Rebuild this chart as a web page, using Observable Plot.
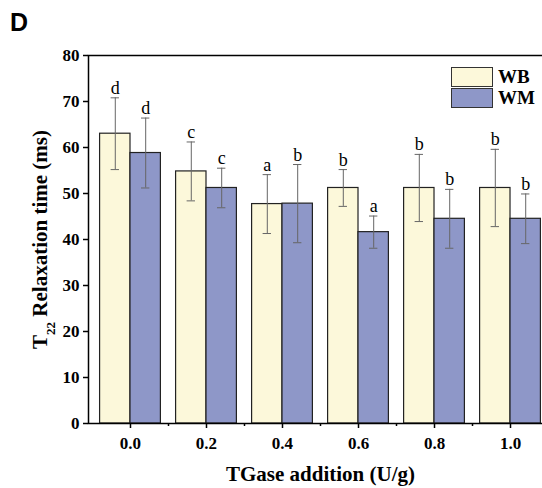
<!DOCTYPE html>
<html>
<head>
<meta charset="utf-8">
<script src="https://cdn.jsdelivr.net/npm/d3@7"></script>
<script src="https://cdn.jsdelivr.net/npm/@observablehq/plot@0.6"></script>
<style>
  html, body { margin: 0; padding: 0; background: #fff; overflow: hidden; width: 542px; height: 488px; }
  #wrap { position: relative; width: 542px; height: 488px; overflow: hidden; }
  #panel { position: absolute; left: 10px; top: 8px; font: bold 25px "Liberation Sans", Arial, sans-serif; color: #000; }
  #chart { position: absolute; left: 0; top: 0; width: 560px; }
  #chart svg { max-width: none !important; }
  #legend { position: absolute; left: 451px; top: 66px; font: bold 19px "Liberation Serif", "Times New Roman", serif; }
  #legend .row { display: flex; align-items: center; height: 21px; }
  #legend .sw { width: 42px; height: 20px; border: 1px solid #333; box-sizing: border-box; margin-right: 5px; }
</style>
</head>
<body>
<div id="wrap">
  <div id="panel">D</div>
  <div id="chart"></div>
  <div id="legend"></div>
</div>
<script>
// Data
const additions = [0.0, 0.2, 0.4, 0.6, 0.8, 1.0];
const tickLabels = ["0.0", "0.2", "0.4", "0.6", "0.8", "1.0"];
const minorTicks = [0.1, 0.3, 0.5, 0.7, 0.9];
const series = ["WB", "WM"];
const wbMean = [63.0, 54.8, 47.7, 51.2, 51.2, 51.2];
const wbSd   = [7.8, 6.4, 6.4, 4.0, 7.3, 8.4];
const wmMean = [58.8, 51.2, 47.8, 41.6, 44.5, 44.5];
const wmSd   = [7.6, 4.3, 8.5, 3.5, 6.4, 5.4];
const wbLetters = ["d", "c", "a", "b", "b", "b"];
const wmLetters = ["d", "c", "b", "a", "b", "b"];
const colors = {WB: "#fcf8da", WM: "#8e97c8"};

const barW = 0.08;
const rows = [];
additions.forEach((a, i) => {
  rows.push({series: "WB", a, x1: a - barW, x2: a, cx: a - barW / 2, mean: wbMean[i], sd: wbSd[i], letter: wbLetters[i]});
  rows.push({series: "WM", a, x1: a, x2: a + barW, cx: a + barW / 2, mean: wmMean[i], sd: wmSd[i], letter: wmLetters[i]});
});
const capHalf = 0.011;

const plot = Plot.plot({
  width: 560,
  height: 488,
  marginLeft: 88,
  marginRight: 8,
  marginTop: 55,
  marginBottom: 65,
  style: {fontFamily: "'Liberation Serif', 'Times New Roman', serif", fontWeight: "bold", fontSize: "17px", color: "#000", background: "transparent", maxWidth: "none"},
  x: {type: "linear", domain: [-0.1105, 1.1105]},
  y: {type: "linear", domain: [0, 80]},
  color: {domain: series, range: series.map(s => colors[s])},
  marks: [
    Plot.rectY(rows, {x1: "x1", x2: "x2", y: "mean", fill: "series", stroke: "#222", strokeWidth: 1.2}),
    Plot.ruleX(rows, {x: "cx", y1: d => d.mean - d.sd, y2: d => d.mean + d.sd, stroke: "#666", strokeWidth: 1}),
    Plot.ruleY(rows, {y: d => d.mean + d.sd, x1: d => d.cx - capHalf, x2: d => d.cx + capHalf, stroke: "#666", strokeWidth: 1}),
    Plot.ruleY(rows, {y: d => d.mean - d.sd, x1: d => d.cx - capHalf, x2: d => d.cx + capHalf, stroke: "#666", strokeWidth: 1}),
    Plot.text(rows, {x: "cx", y: d => d.mean + d.sd, text: "letter", lineAnchor: "bottom", dy: -4, fontSize: 18, fontWeight: "normal", fill: "#000"}),
    Plot.axisX({ticks: additions, tickFormat: d => tickLabels[additions.indexOf(d)] ?? "", tickSize: 5, tickPadding: 8, strokeWidth: 1.5, fontSize: 17, label: "TGase addition (U/g)", labelAnchor: "center", labelArrow: "none", labelOffset: 57}),
    Plot.axisX({ticks: minorTicks, tickSize: 3, tickFormat: () => "", strokeWidth: 1.5, label: null}),
    Plot.axisY({ticks: d3.range(0, 81, 10), tickSize: 5, tickPadding: 4, strokeWidth: 1.5, fontSize: 17, label: "T22 Relaxation time (ms)", labelAnchor: "center", labelArrow: "none", labelOffset: 56}),
    Plot.frame({stroke: "#000", strokeWidth: 1.5})
  ]
});
document.getElementById("chart").appendChild(plot);

// axis label font sizes and subscript
const svg = d3.select(plot);
svg.selectAll('[aria-label="x-axis label"]').style("font-size", "21px");
const yl = svg.select('[aria-label="y-axis label"]');
yl.style("font-size", "21px");
yl.selectAll("text").each(function() {
  const t = d3.select(this);
  t.text(null);
  t.append("tspan").text("T");
  t.append("tspan").attr("baseline-shift", "sub").attr("font-size", "13px").text("22");
  t.append("tspan").text(" Relaxation time (ms)");
});

// legend
const lg = d3.select("#legend");
series.forEach(s => {
  const r = lg.append("div").attr("class", "row");
  r.append("div").attr("class", "sw").style("background", colors[s]);
  r.append("span").text(s);
});
</script>
</body>
</html>
